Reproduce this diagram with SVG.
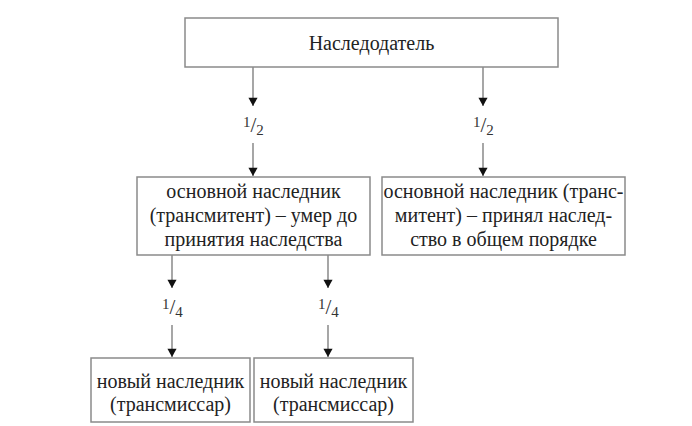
<svg xmlns="http://www.w3.org/2000/svg" width="692" height="426" viewBox="0 0 692 426">
<defs>
<style>
.box{fill:#fff;stroke:#8a8a8a;stroke-width:1.5}
.t{font-family:"Liberation Serif","Times New Roman",serif;font-size:20px;fill:#222;text-anchor:middle}
.f{font-family:"Liberation Serif","Times New Roman",serif;font-size:21px;fill:#333}
.d{font-size:15px}
.ln{stroke:#777;stroke-width:1.3;fill:none}
</style>
<marker id="ah" viewBox="0 0 10 12" refX="10" refY="6" markerWidth="12" markerHeight="10" markerUnits="userSpaceOnUse" orient="auto">
<path d="M0,0.5 L10,6 L0,11.5 z" fill="#111"/>
</marker>
</defs>
<rect width="692" height="426" fill="#fff"/>
<g id="connectors">
<line class="ln" x1="253" y1="67" x2="253" y2="106" marker-end="url(#ah)"/>
<line class="ln" x1="253" y1="143" x2="253" y2="176" marker-end="url(#ah)"/>
<line class="ln" x1="483" y1="67" x2="483" y2="106" marker-end="url(#ah)"/>
<line class="ln" x1="483" y1="143" x2="483" y2="176" marker-end="url(#ah)"/>
<line class="ln" x1="172" y1="255" x2="172" y2="288" marker-end="url(#ah)"/>
<line class="ln" x1="172" y1="325" x2="172" y2="357" marker-end="url(#ah)"/>
<line class="ln" x1="328" y1="255" x2="328" y2="288" marker-end="url(#ah)"/>
<line class="ln" x1="328" y1="325" x2="328" y2="357" marker-end="url(#ah)"/>
<text class="f" x="243" y="132"><tspan class="d" dy="-5">1</tspan><tspan dy="5">/</tspan><tspan class="d" dy="3">2</tspan></text>
<text class="f" x="473" y="132"><tspan class="d" dy="-5">1</tspan><tspan dy="5">/</tspan><tspan class="d" dy="3">2</tspan></text>
<text class="f" x="162" y="314"><tspan class="d" dy="-5">1</tspan><tspan dy="5">/</tspan><tspan class="d" dy="3">4</tspan></text>
<text class="f" x="318" y="314"><tspan class="d" dy="-5">1</tspan><tspan dy="5">/</tspan><tspan class="d" dy="3">4</tspan></text>
</g>
<g id="n1">
<rect class="box" x="185" y="18" width="373" height="49"/>
<text class="t" x="371.5" y="50">Наследодатель</text>
</g>
<g id="n2">
<rect class="box" x="137" y="177" width="233" height="78"/>
<text class="t" x="253.5" y="198">основной наследник</text>
<text class="t" x="253.5" y="222">(трансмитент) – умер до</text>
<text class="t" x="253.5" y="246">принятия наследства</text>
</g>
<g id="n3">
<rect class="box" x="382" y="177" width="243" height="78"/>
<text class="t" x="503.5" y="198">основной наследник (транс-</text>
<text class="t" x="503.5" y="222">митент) – принял наслед-</text>
<text class="t" x="503.5" y="246">ство в общем порядке</text>
</g>
<g id="n4">
<rect class="box" x="91" y="358" width="159" height="64"/>
<text class="t" x="170.5" y="388">новый наследник</text>
<text class="t" x="170.5" y="411">(трансмиссар)</text>
</g>
<g id="n5">
<rect class="box" x="254" y="358" width="159" height="64"/>
<text class="t" x="333.5" y="388">новый наследник</text>
<text class="t" x="333.5" y="411">(трансмиссар)</text>
</g>
</svg>
